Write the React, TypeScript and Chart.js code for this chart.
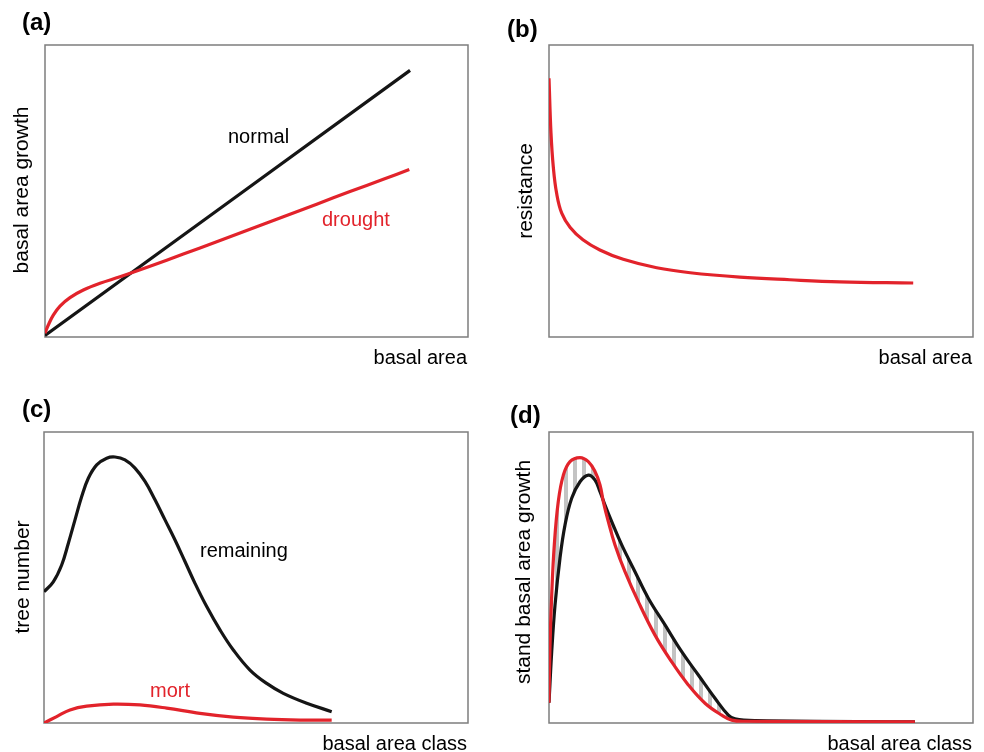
import React, { useEffect, useRef } from "react";
import { Chart, registerables } from "chart.js";

Chart.register(...registerables);

const RED = "#e2232b";
const BLACK = "#151515";
const FRAME = "#7d7d7d";
const HATCH = "#c3c3c3";
const FONT = "'Liberation Sans', Arial, Helvetica, sans-serif";

// ---- Panel (a): basal area growth vs basal area ----
const aNormalX = [0, 86.3];
const aNormalY = [0.5, 91.3];
const aDroughtX = [0, 0.78, 1.96, 3.55, 5.91, 9.06, 13.0, 17.73, 24.82, 32.7, 40.59, 48.46, 56.34, 64.23, 72.1, 79.98, 86.12];
const aDroughtY = [1.3, 4.1, 7.5, 10.6, 13.5, 16.1, 18.4, 20.6, 24.2, 28.4, 32.6, 36.9, 41.2, 45.5, 49.8, 54.0, 57.4];

// ---- Panel (b): resistance vs basal area ----
const bResX = [0, 0.47, 1.01, 1.8, 3.0, 5.0, 8.0, 12.0, 17.5, 25.4, 33.3, 45.0, 56.8, 68.6, 85.9];
const bResY = [88.6, 69.8, 58.3, 49.2, 42.4, 37.5, 33.3, 29.8, 26.6, 23.7, 22.0, 20.5, 19.6, 18.9, 18.5];

// ---- Panel (c): tree number vs basal area class ----
const cRemainX = [0, 2.19, 4.17, 5.73, 7.31, 8.89, 10.45, 12.43, 14.79, 16.75, 19.1, 21.46, 23.82, 26.18, 28.54, 30.9, 33.25, 35.61, 38.37, 41.51, 44.65, 48.58, 52.52, 56.44, 61.96, 67.85];
const cRemainY = [45.1, 48.5, 54.3, 61.7, 69.8, 77.8, 84.1, 88.7, 91.0, 91.4, 90.4, 87.6, 83.0, 76.7, 69.8, 62.9, 55.5, 48.0, 40.0, 32.0, 25.1, 18.2, 13.6, 10.2, 6.8, 3.9];
const cMortX = [0, 2.99, 6.13, 10.07, 16.35, 22.64, 28.94, 36.79, 44.65, 52.5, 60.4, 67.85];
const cMortY = [0, 2.2, 4.5, 5.8, 6.5, 6.2, 5.1, 3.3, 2.0, 1.3, 1.0, 1.0];

// ---- Panel (d): stand basal area growth vs basal area class ----
const dRedX = [0, 0.24, 0.64, 1.25, 2.19, 3.37, 4.95, 7.31, 9.27, 10.85, 12.03, 12.81, 13.99, 15.57, 17.92, 21.06, 25.0, 28.94, 32.85, 36.79, 40.73, 43.09, 46.2, 86.3];
const dRedY = [7.0, 26.8, 44.0, 61.2, 76.1, 85.1, 89.8, 91.2, 89.8, 86.4, 81.8, 76.1, 69.2, 61.2, 52.0, 41.7, 30.2, 21.0, 13.1, 6.8, 2.7, 1.0, 0.6, 0.4];
const dBlackX = [0, 0.64, 1.42, 2.59, 3.77, 5.35, 7.31, 9.27, 10.85, 12.03, 13.21, 14.79, 17.15, 20.28, 23.42, 27.36, 31.3, 35.22, 39.15, 42.29, 43.87, 48.8, 86.3];
const dBlackY = [7.0, 24.5, 40.5, 56.6, 68.0, 77.2, 82.9, 85.2, 83.5, 79.5, 74.9, 69.2, 61.2, 52.0, 42.9, 33.7, 24.5, 16.5, 8.5, 2.7, 1.4, 0.8, 0.4];

const pts = (xs: number[], ys: number[]) => xs.map((x, i) => ({ x, y: ys[i] }));

type TextItem = {
  text: string;
  x: number;
  y: number;
  size: number;
  color?: string;
  bold?: boolean;
  align?: CanvasTextAlign;
  rotate?: boolean;
};

const decor = {
  id: "decor",
  beforeDatasetsDraw(chart: any) {
    const { ctx, chartArea: a } = chart;
    ctx.save();
    ctx.strokeStyle = FRAME;
    ctx.lineWidth = 1.5;
    ctx.strokeRect(a.left, a.top, a.right - a.left, a.bottom - a.top);
    ctx.restore();
  },
  afterDraw(chart: any, _args: any, opts: any) {
    const ctx = chart.ctx as CanvasRenderingContext2D;
    const items: TextItem[] = (opts && opts.items) || [];
    for (const t of items) {
      ctx.save();
      ctx.fillStyle = t.color || "#000";
      ctx.font = `${t.bold ? "bold " : ""}${t.size}px ${FONT}`;
      ctx.textBaseline = "alphabetic";
      if (t.rotate) {
        ctx.translate(t.x, t.y);
        ctx.rotate(-Math.PI / 2);
        ctx.textAlign = "center";
        ctx.fillText(t.text, 0, 0);
      } else {
        ctx.textAlign = t.align || "left";
        ctx.fillText(t.text, t.x, t.y);
      }
      ctx.restore();
    }
  },
};

type PanelDef = {
  left: number;
  top: number;
  width: number;
  height: number;
  padding: { left: number; right: number; top: number; bottom: number };
  datasets: (pattern: CanvasPattern | null) => any[];
  items: TextItem[];
};

const lineDs = (data: { x: number; y: number }[], color: string, extra: any = {}) => ({
  data,
  borderColor: color,
  backgroundColor: color,
  borderWidth: 3.2,
  pointRadius: 0,
  fill: false,
  tension: 0.4,
  borderCapStyle: "butt",
  borderJoinStyle: "round",
  ...extra,
});

const panels: PanelDef[] = [
  {
    left: 0,
    top: 0,
    width: 492,
    height: 376,
    padding: { left: 45, right: 24, top: 45, bottom: 39 },
    datasets: () => [
      lineDs(pts(aDroughtX, aDroughtY), RED),
      lineDs(pts(aNormalX, aNormalY), BLACK),
    ],
    items: [
      { text: "(a)", x: 22, y: 30, size: 24, bold: true },
      { text: "basal area growth", x: 28, y: 190, size: 21, rotate: true },
      { text: "basal area", x: 467, y: 364, size: 20, align: "right" },
      { text: "normal", x: 228, y: 143, size: 20 },
      { text: "drought", x: 322, y: 226, size: 20, color: RED },
    ],
  },
  {
    left: 492,
    top: 0,
    width: 492,
    height: 376,
    padding: { left: 57, right: 11, top: 45, bottom: 39 },
    datasets: () => [lineDs(pts(bResX, bResY), RED)],
    items: [
      { text: "(b)", x: 15, y: 37, size: 24, bold: true },
      { text: "resistance", x: 40, y: 191, size: 21, rotate: true },
      { text: "basal area", x: 480, y: 364, size: 20, align: "right" },
    ],
  },
  {
    left: 0,
    top: 376,
    width: 492,
    height: 376,
    padding: { left: 44, right: 24, top: 56, bottom: 29 },
    datasets: () => [
      lineDs(pts(cMortX, cMortY), RED),
      lineDs(pts(cRemainX, cRemainY), BLACK),
    ],
    items: [
      { text: "(c)", x: 22, y: 41, size: 24, bold: true },
      { text: "tree number", x: 28.5, y: 201, size: 21, rotate: true },
      { text: "basal area class", x: 467, y: 374, size: 20, align: "right" },
      { text: "remaining", x: 200, y: 181, size: 20 },
      { text: "mort", x: 150, y: 321, size: 20, color: RED },
    ],
  },
  {
    left: 492,
    top: 376,
    width: 492,
    height: 376,
    padding: { left: 57, right: 11, top: 56, bottom: 29 },
    datasets: (pattern) => [
      lineDs(pts(dRedX, dRedY), RED, {
        fill: { target: 1, above: pattern || HATCH, below: pattern || HATCH },
      }),
      lineDs(pts(dBlackX, dBlackY), BLACK),
    ],
    items: [
      { text: "(d)", x: 18, y: 47, size: 24, bold: true },
      { text: "stand basal area growth", x: 38, y: 196, size: 21, rotate: true },
      { text: "basal area class", x: 480, y: 374, size: 20, align: "right" },
    ],
  },
];

function makeHatch(): CanvasPattern | null {
  const c = document.createElement("canvas");
  c.width = 9;
  c.height = 4;
  const g = c.getContext("2d");
  if (!g) return null;
  g.fillStyle = HATCH;
  g.fillRect(0, 0, 4, 4);
  return g.createPattern(c, "repeat");
}

function Panel({ def }: { def: PanelDef }) {
  const ref = useRef<HTMLCanvasElement | null>(null);
  useEffect(() => {
    if (!ref.current) return;
    const pattern = makeHatch();
    const chart = new Chart(ref.current, {
      type: "line",
      data: { datasets: def.datasets(pattern) },
      options: {
        responsive: false,
        animation: false,
        devicePixelRatio: 1,
        layout: { padding: def.padding },
        scales: {
          x: { type: "linear", min: 0, max: 100, display: false },
          y: { type: "linear", min: 0, max: 100, display: false },
        },
        plugins: {
          legend: { display: false },
          tooltip: { enabled: false },
          filler: { propagate: false, drawTime: "beforeDatasetsDraw" },
          decor: { items: def.items },
        } as any,
        events: [],
      },
      plugins: [decor],
    } as any);
    return () => chart.destroy();
  }, [def]);
  return (
    <canvas
      ref={ref}
      width={def.width}
      height={def.height}
      style={{
        position: "absolute",
        left: def.left,
        top: def.top,
        width: def.width,
        height: def.height,
      }}
    />
  );
}

export default function App() {
  return (
    <div
      style={{
        position: "absolute",
        left: 0,
        top: 0,
        width: 984,
        height: 752,
        background: "#ffffff",
        overflow: "hidden",
      }}
    >
      {panels.map((p, i) => (
        <Panel key={i} def={p} />
      ))}
    </div>
  );
}
